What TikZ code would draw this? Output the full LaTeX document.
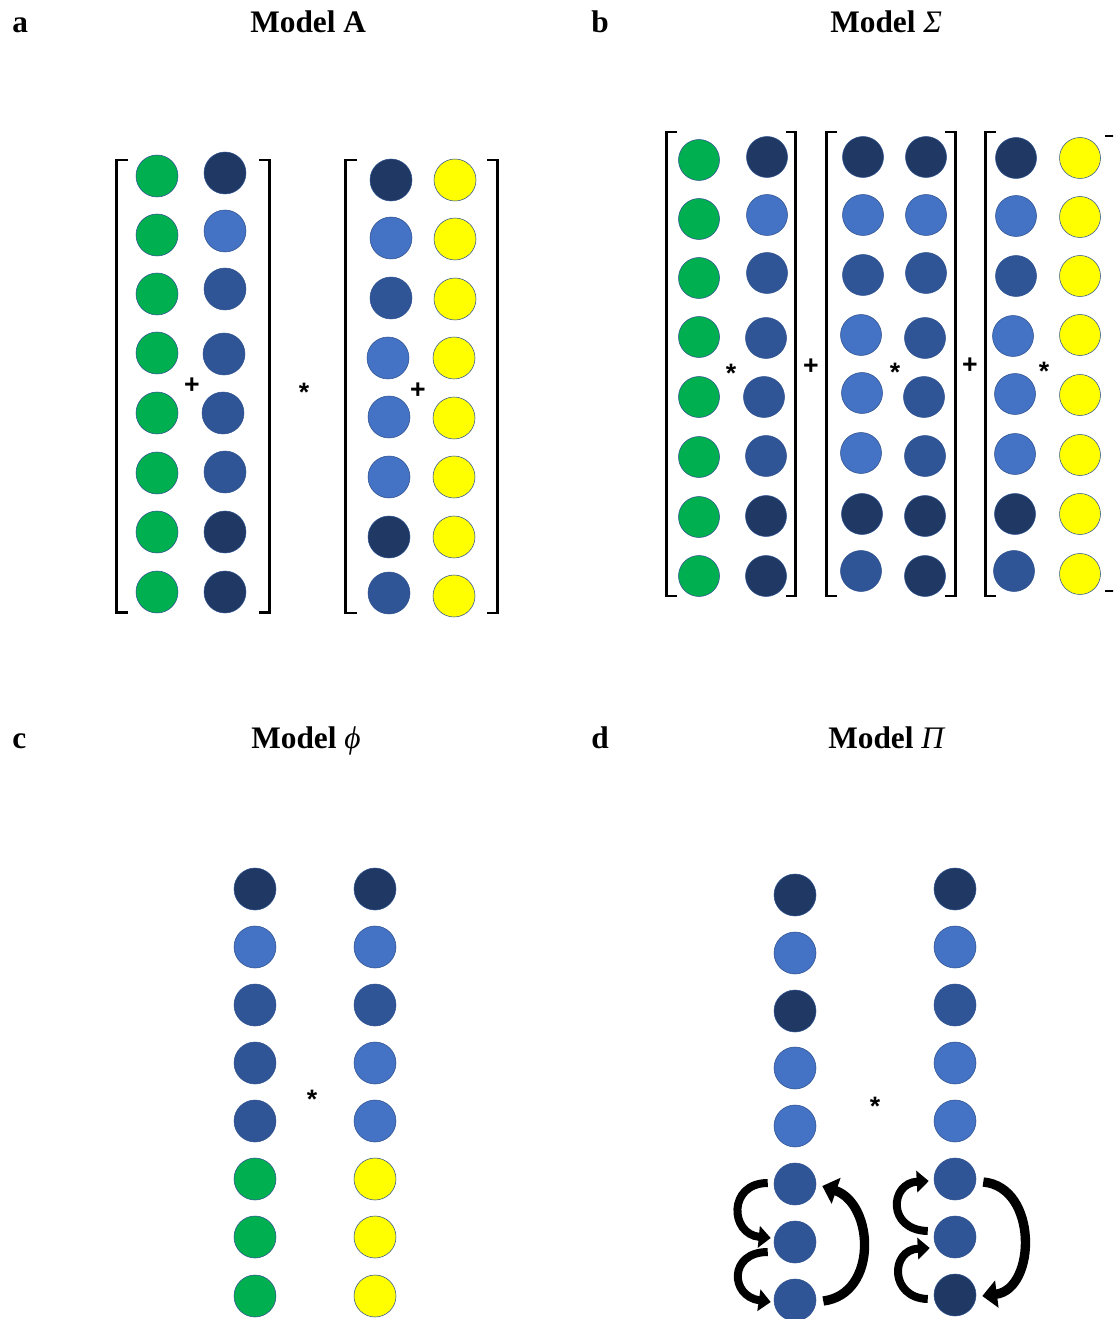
\documentclass[tikz,border=0pt]{standalone}
\usepackage{fontspec}
\setmainfont{Liberation Serif}
\newfontfamily\opfont{Liberation Sans}
\usetikzlibrary{arrows.meta,calc}

\definecolor{cG}{HTML}{00B050}
\definecolor{cN}{HTML}{203864}
\definecolor{cL}{HTML}{4472C4}
\definecolor{cM}{HTML}{2F5597}
\definecolor{cY}{HTML}{FFFF00}
\definecolor{cEdge}{HTML}{2F528F}

\tikzset{
  dot/.style={circle, inner sep=0pt, minimum size=31.5pt, draw=cEdge, line width=0.4pt},
  smalldot/.style={dot, minimum size=30.75pt},
  title/.style={anchor=base west, inner sep=0pt, font=\fontsize{23.5}{28}\selectfont\bfseries},
  opsym/.style={anchor=base, inner sep=0pt, font=\opfont\bfseries\fontsize{20}{24}\selectfont},
  brak/.style={line width=2pt, line join=miter},
  curvarrow/.style={line width=6pt, draw=black, -{Triangle[length=9pt,width=16pt]}},
  bigarrow/.style={line width=7pt, draw=black, -{Triangle[length=11pt,width=20pt]}}
}

\begin{document}
\begin{tikzpicture}[x=0.75pt, y=-0.75pt]
\useasboundingbox (0,0) rectangle (1113,1319);
\clip (0,0) rectangle (1113,1319);

% ---------- panel labels and titles ----------
\node[title] (la) at (12,33) {a};
\node[title] (ta) at (250,33) {Model A};
\node[title] (lb) at (591,33) {b};
\node[title] (tb) at (830,33) {Model {\fontseries{m}\itshape Σ}};
\node[title] (lc) at (12,748) {c};
\node[title] (tc) at (251,748) {Model {\fontseries{m}\itshape ϕ}};
\node[title] (ld) at (591,748) {d};
\node[title] (td) at (828,748) {Model {\fontseries{m}\itshape Π}};

% ---------- panel a ----------
\foreach \x/\y [count=\i] in {157/176,157/235,157/294,157/353,157/413,157/473,157/532,157/592}
  \node[dot, fill=cG] (a1l\i) at (\x,\y) {};
\foreach \f/\x/\y [count=\i] in {cN/225/173,cL/225/231,cM/225/289,cM/224/354,cM/223/413,cM/225/472,cN/225/532,cN/225/592}
  \node[dot, fill=\f] (a1r\i) at (\x,\y) {};
\foreach \f/\x/\y [count=\i] in {cN/391/180,cL/391/238,cM/391/298,cL/388/358,cL/389/417,cL/389/477,cN/389/537,cM/389/593}
  \node[dot, fill=\f] (a2l\i) at (\x,\y) {};
\foreach \x/\y [count=\i] in {455/180,455/239,455/299,454/358,454/418,454/477,454/537,454/596}
  \node[dot, fill=cY] (a2r\i) at (\x,\y) {};

\draw[brak] (128,160) -- (116.5,160) -- (116.5,612.5) -- (128,612.5);
\draw[brak] (259,160) -- (269.5,160) -- (269.5,612.5) -- (259,612.5);
\draw[brak] (357,160) -- (345.5,160) -- (345.5,613) -- (357,613);
\draw[brak] (487,160) -- (497.5,160) -- (497.5,613) -- (487,613);

\node[opsym] (aplus1) at (192,393) {+};
\node[opsym] (astar) at (304,401.5) {*};
\node[opsym] (aplus2) at (418,398) {+};

% ---------- panel b ----------
\foreach \x/\y [count=\i] in {699/160,699/219,699/278,699/337,699/397,699/457,699/517,699/576}
  \node[smalldot, fill=cG] (b1l\i) at (\x,\y) {};
\foreach \f/\x/\y [count=\i] in {cN/767/157,cL/767/215,cM/767/273,cM/766/338,cM/764/397,cM/766/456,cN/766/516,cN/766/576}
  \node[smalldot, fill=\f] (b1r\i) at (\x,\y) {};
\foreach \f/\x/\y [count=\i] in {cN/863/157,cL/863/215,cM/863/275,cL/861/335,cL/862/393,cL/861/453,cN/862/514,cM/861/571}
  \node[smalldot, fill=\f] (b2l\i) at (\x,\y) {};
\foreach \f/\x/\y [count=\i] in {cN/926/157,cL/926/215,cM/926/273,cM/925/338,cM/924/397,cM/925/456,cN/925/516,cN/925/576}
  \node[smalldot, fill=\f] (b2r\i) at (\x,\y) {};
\foreach \f/\x/\y [count=\i] in {cN/1016/158,cL/1016/216,cM/1016/276,cL/1013/336,cL/1015/394,cL/1015/454,cN/1015/514,cM/1014/571}
  \node[smalldot, fill=\f] (b3l\i) at (\x,\y) {};
\foreach \x/\y [count=\i] in {1080/158,1080/217,1080/276,1080/335,1080/395,1080/455,1080/514,1080/574}
  \node[smalldot, fill=cY] (b3r\i) at (\x,\y) {};

\draw[brak] (677,132) -- (666.5,132) -- (666.5,596) -- (677,596);
\draw[brak] (786,132) -- (795.5,132) -- (795.5,596) -- (786,596);
\draw[brak] (837,132) -- (826.5,132) -- (826.5,596) -- (837,596);
\draw[brak] (945,132) -- (955.5,132) -- (955.5,596) -- (945,596);
\draw[brak] (996,132) -- (985.5,132) -- (985.5,596) -- (996,596);
\draw[brak] (1105,136) -- (1118,136) -- (1118,591) -- (1105,591);

\node[opsym] (bstar1) at (731,382.5) {*};
\node[opsym] (bplus1) at (811,374) {+};
\node[opsym] (bstar2) at (895,381.5) {*};
\node[opsym] (bplus2) at (970,373) {+};
\node[opsym] (bstar3) at (1044,380.5) {*};

% ---------- panel c ----------
\foreach \f/\y [count=\i] in {cN/889,cL/947,cM/1005,cM/1063,cM/1121,cG/1179,cG/1237,cG/1296}
  \node[dot, fill=\f] (cl\i) at (255,\y) {};
\foreach \f/\y [count=\i] in {cN/889,cL/947,cM/1005,cL/1063,cL/1121,cY/1179,cY/1237,cY/1296}
  \node[dot, fill=\f] (cr\i) at (375,\y) {};
\node[opsym] (cstar) at (312,1108.5) {*};

% ---------- panel d ----------
\foreach \f/\y [count=\i] in {cN/895,cL/953,cN/1011,cL/1068,cL/1126,cM/1184,cM/1242,cM/1300}
  \node[dot, fill=\f] (dl\i) at (795,\y) {};
\foreach \f/\y [count=\i] in {cN/889,cL/947,cM/1005,cL/1063,cL/1121,cM/1179,cM/1237,cN/1295}
  \node[dot, fill=\f] (dr\i) at (955,\y) {};
\node[opsym] (dstar) at (875,1115.5) {*};

% cycling arrows, left column
\draw[curvarrow] ($(dl6.west)+(-6,-1)$) .. controls ($(dl6.west)+(-46,-1)$) and ($(dl7.west)+(-44,-8)$) .. ($(dl7.west)+(-3,-4)$);
\draw[curvarrow] ($(dl7.west)+(-6,10)$) .. controls ($(dl7.west)+(-45,10)$) and ($(dl8.west)+(-44,-4)$) .. ($(dl8.west)+(-3,2)$);
\draw[bigarrow] ($(dl8.east)+(7,1)$) .. controls ($(dl8.east)+(62,-6)$) and ($(dl6.east)+(58,20)$) .. ($(dl6.east)+(6,2)$);

% cycling arrows, right column
\draw[curvarrow] ($(dr7.west)+(-6,-6)$) .. controls ($(dr7.west)+(-47,-7)$) and ($(dr6.west)+(-44,4)$) .. ($(dr6.west)+(-5,2)$);
\draw[curvarrow] ($(dr8.west)+(-6,4)$) .. controls ($(dr8.west)+(-44,3)$) and ($(dr7.west)+(-44,13)$) .. ($(dr7.west)+(-4,11)$);
\draw[bigarrow] ($(dr6.east)+(7,3)$) .. controls ($(dr6.east)+(62,8)$) and ($(dr8.east)+(60,-6)$) .. ($(dr8.east)+(6,1)$);
\end{tikzpicture}
\end{document}
